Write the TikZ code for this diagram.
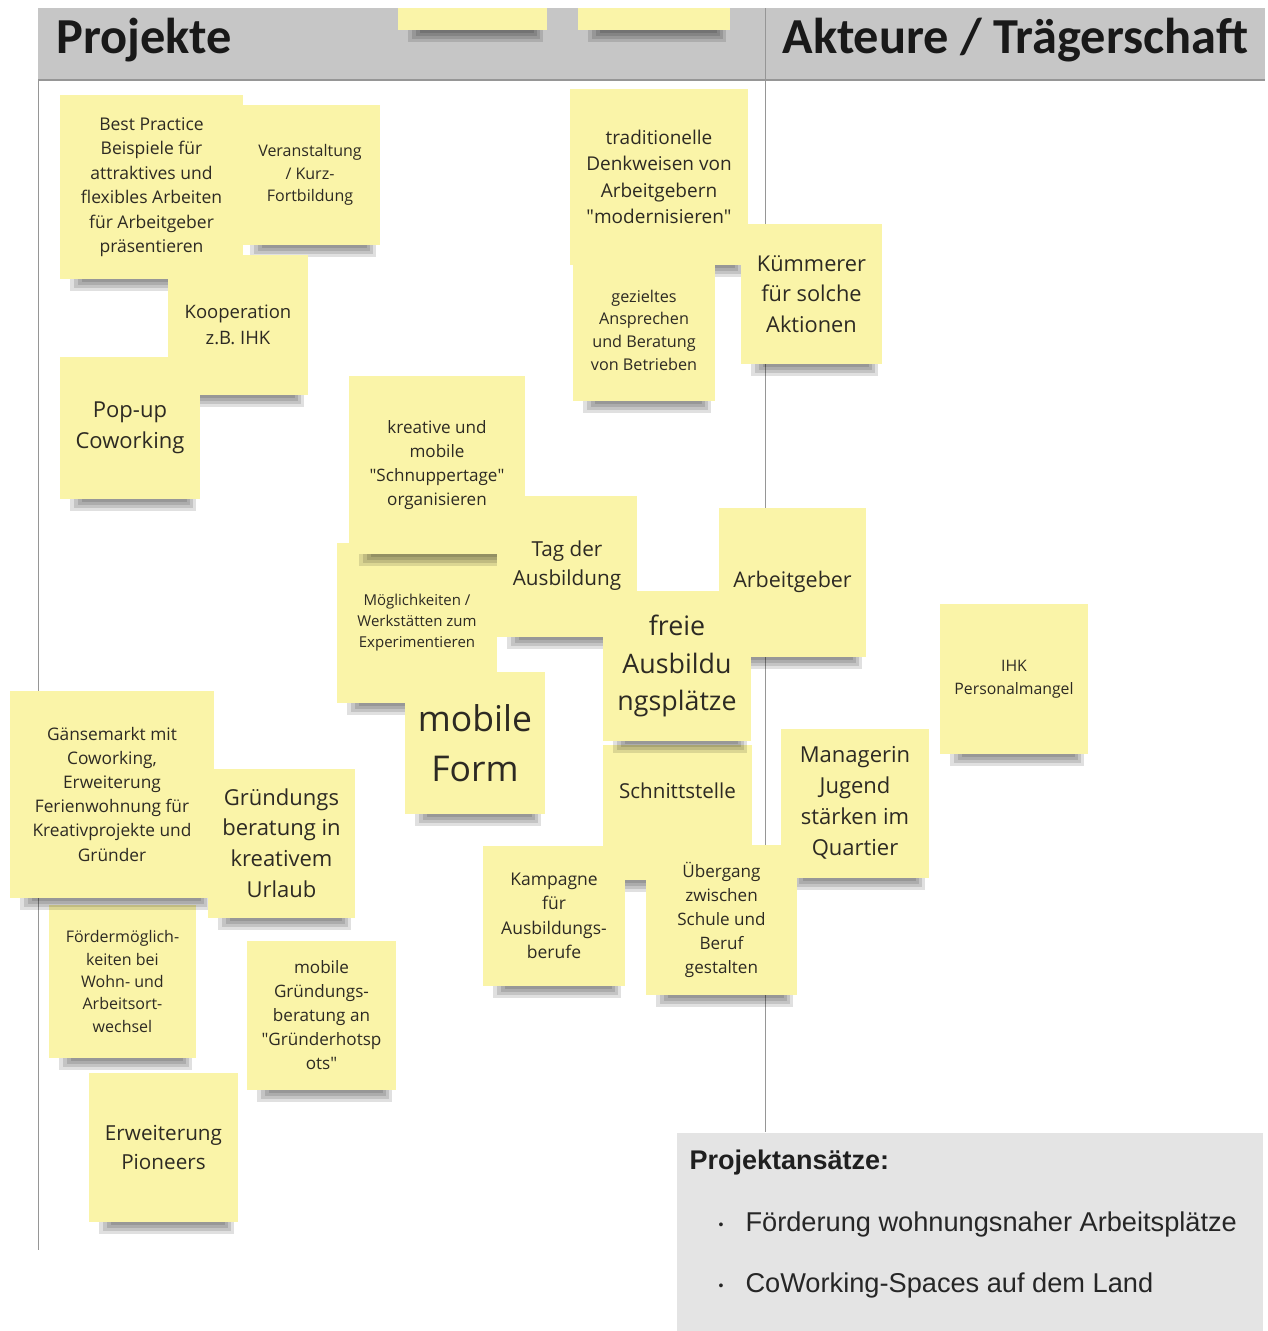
\documentclass[tikz,border=0pt]{standalone}
\usepackage{fontspec}
\setmainfont{Open Sans}
\newfontfamily\headfont{Carlito}
\newfontfamily\boxfont{Liberation Sans}
\usetikzlibrary{calc}

\definecolor{notey}{RGB}{250,244,168}
\definecolor{notetext}{RGB}{45,42,35}
\definecolor{bandgray}{RGB}{198,198,198}
\definecolor{linegray}{RGB}{150,150,150}
\definecolor{boxgray}{RGB}{228,228,228}

\tikzset{
  shadowstrip/.style={fill=black, fill opacity=0.12},
  note/.style={fill=notey, text=notetext, align=center, inner sep=0pt,
    append after command={\pgfextra{
      \foreach \d/\l/\r in {12/10/4, 9/14/7, 6/18/10, 3/22/13}
        \fill[shadowstrip] ($(\tikzlastnode.south west)+(\l pt,0pt)$) rectangle ($(\tikzlastnode.south east)+(-\r pt,-\d pt)$);}}},
  sz/.style 2 args={minimum width=#1pt, minimum height=#2pt},
  fs/.style 2 args={font=\fontsize{#1}{#2}\selectfont},
}

\begin{document}
\begin{tikzpicture}[x=1pt,y=-1pt]
  \useasboundingbox (0,0) rectangle (1268,1331);
  \fill[white] (0,0) rectangle (1268,1331);

  % header band and frame lines
  \fill[bandgray] (38,8) rectangle (1265,80);
  \draw[linegray, line width=1.2pt] (38,80) -- (1265,80);
  \draw[linegray] (38,80) -- (38,1250);
  \draw[linegray] (765,8) -- (765,1132);
  \node[anchor=west, font=\headfont\bfseries\fontsize{50.4}{52}\selectfont, text=black!90] (projekte) at (53,40) {Projekte};
  \node[anchor=west, font=\headfont\bfseries\fontsize{50.4}{52}\selectfont, text=black!90] (akteure) at (779,40) {Akteure / Trägerschaft};
  \node[note, sz={149}{22}] (hn1) at (472.5,19) {};
  \node[note, sz={152}{22}] (hn2) at (654,19) {};

  % notes
  \node[note, sz={183}{184}, fs={17.5}{24.5}] (bp) at (151.5,187) {Best Practice\\Beispiele für\\attraktives und\\flexibles Arbeiten\\für Arbeitgeber\\präsentieren};
  \node[note, sz={140}{140}, fs={16}{22.5}] (ver) at (310,175) {Veranstaltung\\/ Kurz-\\Fortbildung};
  \node[note, sz={140}{140}, fs={18.5}{26}] (koop) at (238,325) {Kooperation\\z.B. IHK};
  \node[note, sz={140}{142}, fs={22}{31}] (pop) at (130,428) {Pop-up\\Coworking};
  \node[note, sz={178}{176}, fs={19}{26.5}] (trad) at (659,177) {traditionelle\\Denkweisen von\\Arbeitgebern\\\textquotedbl modernisieren\textquotedbl};
  \node[note, sz={142}{141}, fs={16.2}{22.7}] (gez) at (644,330) {gezieltes\\Ansprechen\\und Beratung\\von Betrieben};
  \node[note, sz={141}{140}, fs={21.8}{30.5}] (kum) at (811.5,294) {Kümmerer\\für solche\\Aktionen};
  \node[note, sz={160}{160}, fs={15}{21}] (moe) at (417,623) {Möglichkeiten /\\Werkstätten zum\\Experimentieren};
  \node[note, sz={176}{178}, fs={17.1}{24}] (kre) at (437,465) {kreative und\\mobile\\\textquotedbl Schnuppertage\textquotedbl\\organisieren};
  \node[note, sz={140}{141}, fs={20.7}{29}] (tag) at (567,566) {Tag der\\Ausbildung};
  \node[note, sz={147}{149}, fs={21.5}{30}] (arb) at (792.5,582) {Arbeitgeber};
  \node[note, sz={149}{135}, fs={20.6}{29}] (sch) at (677.5,812.5) {\raisebox{14pt}[0pt][0pt]{Schnittstelle}};
  \node[note, sz={148}{150}, fs={26.8}{37.5}] (frei) at (677,666) {freie\\Ausbildu\\ngsplätze};
  \node[note, sz={140}{142}, fs={35.5}{50}] (mob) at (475,743) {mobile\\Form};
  \node[note, sz={148}{150}, fs={15.8}{23}] (ihk) at (1014,679) {IHK\\Personalmangel};
  \node[note, sz={147}{153}, fs={16}{22.3}] (foe) at (122.5,981.5) {Fördermöglich-\\keiten bei\\Wohn- und\\Arbeitsort-\\wechsel};
  \node[note, sz={204}{207}, fs={17.3}{24.2}] (gan) at (112,794) {Gänsemarkt mit\\Coworking,\\Erweiterung\\Ferienwohnung für\\Kreativprojekte und\\Gründer};
  \node[note, sz={147}{149}, fs={22}{30.7}] (gru) at (281.5,843) {Gründungs\\beratung in\\kreativem\\Urlaub};
  \node[note, sz={148}{149}, fs={22}{31}] (man) at (855,803) {Managerin\\Jugend\\stärken im\\Quartier};
  \node[note, sz={142}{140}, fs={17.5}{24.5}] (kam) at (554,916) {Kampagne\\für\\Ausbildungs-\\berufe};
  \node[note, sz={151}{150}, fs={17.1}{24}] (ueb) at (721.5,920) {Übergang\\zwischen\\Schule und\\Beruf\\gestalten};
  \node[note, sz={149}{149}, fs={17.1}{24}] (mgr) at (321.5,1015) {mobile\\Gründungs-\\beratung an\\\textquotedbl Gründerhotsp\\ots\textquotedbl};
  \node[note, sz={149}{149}, fs={20.7}{29}] (erw) at (163.5,1147) {Erweiterung\\Pioneers};

  % summary box
  \fill[boxgray] (677,1133) rectangle (1263,1331);
  \node[anchor=west, font=\boxfont\bfseries\fontsize{27}{30}\selectfont, text=black!88] (ansatz) at (686,1163) {Projektansätze:};
  \node[font=\boxfont\fontsize{14}{16}\selectfont, text=black!85] (dot1) at (721,1226) {\textbullet};
  \node[anchor=west, font=\boxfont\fontsize{27.2}{30}\selectfont, text=black!85] (item1) at (742,1224) {Förderung wohnungsnaher Arbeitsplätze};
  \node[font=\boxfont\fontsize{14}{16}\selectfont, text=black!85] (dot2) at (721,1287) {\textbullet};
  \node[anchor=west, font=\boxfont\fontsize{27.2}{30}\selectfont, text=black!85] (item2) at (742,1285) {CoWorking-Spaces auf dem Land};
\end{tikzpicture}
\end{document}
